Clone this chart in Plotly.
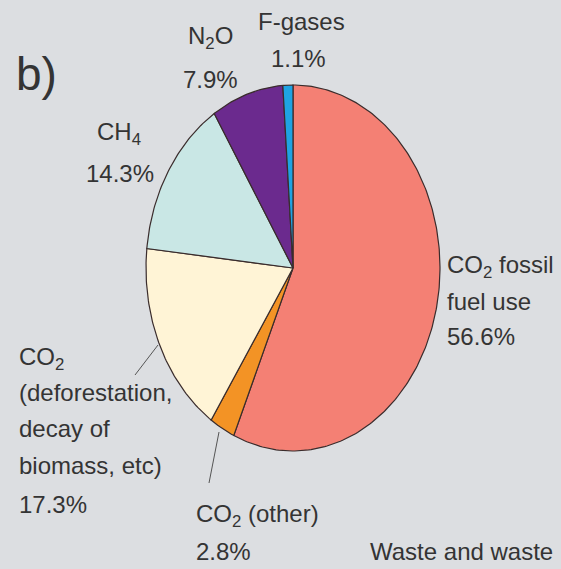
import numpy as np
import plotly.graph_objects as go

# ---- data ----
categories = ["CO2 fossil fuel use", "CO2 (other)", "CO2 (deforestation, decay of biomass, etc)",
              "CH4", "N2O", "F-gases"]
shares = [56.6, 2.8, 17.3, 14.3, 7.9, 1.1]
colors = ["#f48074", "#f39325", "#fff4d6", "#c9e7e5", "#6b2a8e", "#1fa3e3"]

W, H = 561, 569
CX, CY, RX, RY = 293, 268, 147, 183   # pie centre / radii in pixels (layout)

FONT = "Liberation Sans, Arial, Helvetica, sans-serif"
TXT = "#343434"
BG = "#dcdee1"

fig = go.Figure()

# slices drawn clockwise from 12 o'clock; unit circle stretched by the axis ranges
total = sum(shares)
start = 0.0
for name, v, c in zip(categories, shares, colors):
    a0 = start / total * 2 * np.pi
    a1 = (start + v) / total * 2 * np.pi
    t = np.linspace(a0, a1, max(int(v * 4), 8))
    xs = np.concatenate([[0], np.sin(t), [0]])
    ys = np.concatenate([[0], np.cos(t), [0]])
    fig.add_trace(go.Scatter(x=xs, y=ys, mode="lines", fill="toself", fillcolor=c,
                             line=dict(color="#3a2c2c", width=1.2), name=name,
                             hoverinfo="name", showlegend=False))
    start += v

def px(x):
    return x / W

def py(y):
    return 1 - y / H

FS = 24
labels = [
    # text, x, y, xanchor, size
    ("b)", 14, 74, "left", 46),
    ("N<sub>2</sub>O", 210, 38, "center", FS),
    ("7.9%", 210, 80, "center", FS),
    ("F-gases", 301, 22, "center", FS),
    ("1.1%", 298, 58, "center", FS),
    ("CH<sub>4</sub>", 119, 134, "center", FS),
    ("14.3%", 120, 173, "center", FS),
    ("CO<sub>2</sub> fossil", 445, 266, "left", FS),
    ("fuel use", 445, 302, "left", FS),
    ("56.6%", 445, 337, "left", FS),
    ("CO<sub>2</sub>", 17, 358, "left", FS),
    ("(deforestation,", 17, 392, "left", FS),
    ("decay of", 17, 428, "left", FS),
    ("biomass, etc)", 17, 465, "left", FS),
    ("17.3%", 17, 504, "left", FS),
    ("CO<sub>2</sub> (other)", 194, 515, "left", FS),
    ("2.8%", 194, 551, "left", FS),
    ("Waste and waste", 368, 551, "left", FS),
]
anns = []
for text, x, y, xa, s in labels:
    anns.append(dict(text=text, x=px(x), y=py(y), xref="paper", yref="paper",
                     xanchor=xa, yanchor="middle", showarrow=False,
                     font=dict(family=FONT, size=s, color=TXT)))

# leader lines
shapes = []
for (x0, y0, x1, y1) in [(158, 345, 135, 375), (219, 432, 209, 483)]:
    shapes.append(dict(type="line", xref="paper", yref="paper",
                       x0=px(x0), y0=py(y0), x1=px(x1), y1=py(y1),
                       line=dict(color="#555555", width=1)))

fig.update_layout(
    width=W, height=H, margin=dict(l=0, r=0, t=0, b=0),
    paper_bgcolor=BG, plot_bgcolor=BG,
    xaxis=dict(range=[-CX / RX, (W - CX) / RX], visible=False, fixedrange=True),
    yaxis=dict(range=[(CY - H) / RY, CY / RY], visible=False, fixedrange=True),
    annotations=anns, shapes=shapes, showlegend=False,
)

fig.write_html("out.html", config={"displayModeBar": False},
               post_script="document.body.style.margin='0px';")
